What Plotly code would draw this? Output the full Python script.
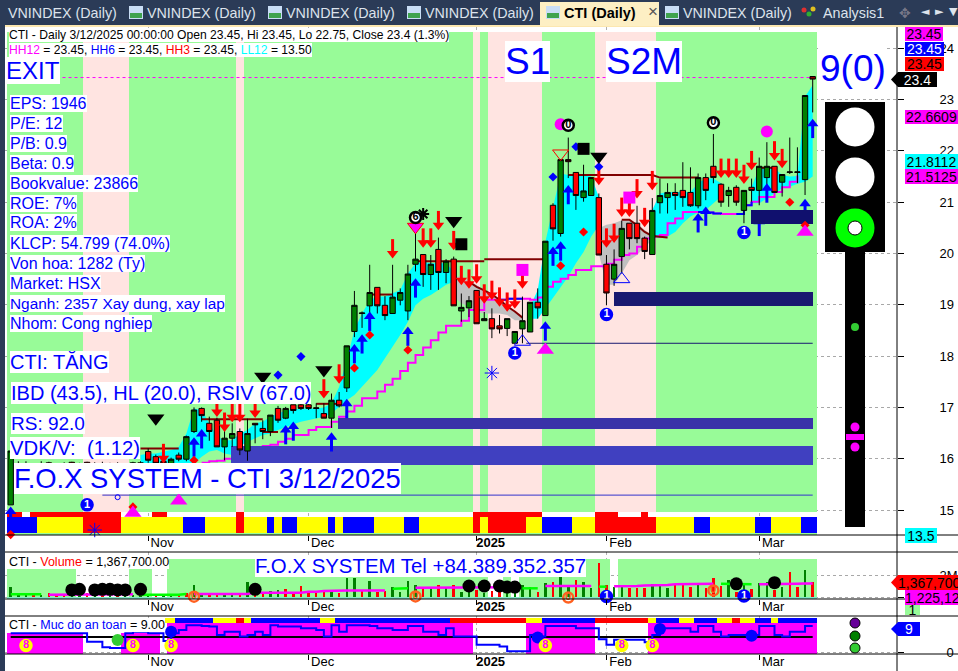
import plotly.graph_objects as go

W, H = 958, 671
# ---------- candles (bar index 0..105) ----------
opens = [15.10,15.80,15.90,15.75,15.85,15.92,15.75,15.88,15.93,15.78,15.93,15.80,15.90,15.78,15.86,15.75,15.70,15.92,16.14,16.04,
15.95,15.85,16.07,15.99,16.53,16.98,16.69,16.75,16.23,16.40,16.53,16.15,16.69,16.59,16.53,16.98,16.79,17.05,17.05,17.05,
16.98,16.88,16.79,17.14,17.38,18.48,18.83,18.98,19.34,18.99,18.83,19.09,18.88,19.79,19.98,19.59,20.08,19.63,19.89,18.88,
18.94,19.28,18.69,18.73,18.59,18.54,18.25,18.53,18.47,19.05,18.79,20.94,20.39,21.83,21.58,21.09,21.13,21.09,19.79,19.50,
19.94,20.59,20.59,20.30,19.98,20.99,21.09,21.19,21.23,21.19,20.93,21.48,21.70,21.35,21.13,21.29,20.84,21.29,21.23,21.48,
21.70,21.39,21.58,21.58,21.44,23.45]
highs = [16.15,15.95,15.95,15.90,15.95,15.94,15.90,15.93,15.94,15.92,15.94,15.93,15.94,15.92,15.93,15.90,15.94,15.95,16.20,16.08,
16.00,16.02,16.12,16.45,17.00,17.00,16.82,16.80,16.55,16.69,16.59,16.78,16.69,16.75,16.85,17.03,17.01,17.05,17.08,17.08,
17.08,17.08,17.27,17.30,18.20,19.27,18.87,19.78,19.34,19.17,19.78,19.32,19.78,20.62,19.98,19.97,20.31,19.89,19.94,19.22,
19.17,19.28,18.86,18.93,18.80,18.73,18.48,19.16,19.05,19.32,20.24,20.98,21.83,22.26,21.58,21.73,21.48,21.17,19.97,20.08,
20.64,20.59,20.93,20.33,21.08,21.46,21.37,21.37,21.78,21.68,21.56,21.56,22.33,21.37,21.30,21.33,21.23,21.46,21.87,22.17,
21.70,21.54,22.26,22.07,23.08,23.45]
lows = [15.10,15.65,15.70,15.65,15.70,15.70,15.65,15.70,15.72,15.70,15.70,15.70,15.72,15.70,15.70,15.68,15.60,15.70,15.92,15.85,
15.85,15.80,15.95,15.95,16.50,16.72,16.35,16.23,15.97,16.23,16.07,15.96,16.30,16.38,16.44,16.70,16.77,16.88,16.95,16.95,
16.79,16.79,16.60,17.00,17.30,18.37,18.55,18.83,18.83,18.70,18.83,18.99,18.70,19.65,19.35,19.29,19.29,19.42,18.98,18.67,
18.76,18.63,18.69,18.35,18.44,18.39,18.25,18.25,18.47,18.73,18.79,20.25,20.33,21.47,20.85,21.01,21.13,19.97,18.99,19.37,
19.61,20.08,20.20,19.89,19.98,20.78,20.78,20.85,20.91,20.91,20.88,21.04,21.37,20.91,20.91,20.93,20.59,21.01,20.94,21.27,
21.19,21.11,21.55,21.37,21.14,22.75]
closes = [16.15,15.90,15.75,15.85,15.80,15.75,15.88,15.80,15.78,15.85,15.80,15.90,15.78,15.86,15.75,15.88,15.92,15.80,15.97,15.91,
15.90,15.99,15.99,16.43,16.95,16.84,16.53,16.23,16.40,16.49,16.17,16.49,16.66,16.53,16.85,16.75,16.98,16.94,16.98,16.98,
16.99,16.79,17.14,17.03,18.20,18.99,18.84,19.24,18.98,18.79,19.15,19.24,19.60,19.89,19.59,19.79,19.63,19.85,18.98,18.95,
19.08,18.63,18.73,18.53,18.53,18.73,18.48,18.69,19.05,18.94,20.24,20.48,21.83,21.79,21.13,21.22,21.48,19.97,19.23,19.79,
20.49,20.29,20.29,20.04,20.84,21.13,21.19,21.13,21.09,20.93,21.48,21.23,21.48,21.00,21.23,21.00,21.23,21.23,21.70,21.70,
21.19,21.54,21.59,21.59,23.08,23.40]

# ---------- trend-ribbon segments: [first index, upper values, lower values] ----------
cyan_segments = [
 (17,[16.07,16.10,16.10,16.14,16.17,16.23,16.49,16.98,16.95,16.69,16.43,16.36,16.36,16.49,16.56,16.69,16.72,16.82,16.88,16.94,16.96,16.98,16.98,16.98,17.00,17.08,17.40,17.92,18.51,18.83,19.09,19.16,19.16,19.22,19.29,19.61,19.81,19.84,19.81,19.81,19.81,19.65],
     [15.85,15.85,15.85,15.85,15.85,15.85,15.85,15.91,16.04,16.14,16.17,16.10,16.07,16.25,16.33,16.40,16.46,16.49,16.56,16.62,16.67,16.72,16.75,16.79,16.82,16.88,17.01,17.14,17.24,17.40,17.57,17.73,17.96,18.18,18.41,18.67,18.99,19.12,19.19,19.29,19.39,19.45]),
 (68,[18.96,19.29,20.23,20.91,21.56,21.53,21.53,21.53,21.50,21.10],
     [18.73,18.73,18.93,19.13,19.35,19.55,19.81,20.03,20.33,20.55]),
 (84,[20.85,21.17,21.20,21.20,21.20,21.20,21.37,21.46,21.46,21.37],
     [20.33,20.30,20.33,20.42,20.59,20.72,20.80,20.85,20.98,21.11]),
 (97,[21.30,21.66,21.66,21.66,21.53,21.50,21.51,23.06,23.28],
     [20.98,20.98,21.07,21.17,21.27,21.30,21.36,21.40,21.50]),
]
gray_segments = [
 (58,[19.55,19.55,19.48,19.39,19.29,19.22,19.09,18.96,18.86,18.73],
     [19.16,19.03,18.96,18.86,18.83,18.83,18.83,18.80,18.70,18.70]),
 (77,[20.49,20.56,20.59,20.65,20.65,20.59,20.46,20.36],
     [20.00,19.39,19.39,19.61,19.87,19.97,20.13,20.26]),
]
# stepped support line
support_start = 25
support = [15.92,15.95,15.96,16.00,16.05,16.10,16.15,16.20,16.25,16.27,16.33,16.39,16.46,16.46,16.56,16.62,16.62,16.72,16.82,16.92,
17.03,17.18,17.18,17.31,17.44,17.56,17.71,17.87,18.02,18.17,18.31,18.46,18.59,18.59,18.69,18.90,18.90,19.10,19.10,19.10,
19.12,19.12,19.12,19.10,19.14,19.35,19.45,19.51,19.58,19.68,19.68,19.75,19.75,19.80,19.88,19.97,20.00,20.13,20.29,20.33,
20.36,20.59,20.68,20.81,20.81,20.81,20.80,20.78,20.77,20.77,20.77,20.94,21.01,21.10,21.10,21.20,21.29,21.40,21.52]
support_blue_idx = [64,65,66,67,90,91,92,93,95,96,97]
# resistance steps: (first index, values)
resist_segments = [
 (17,[16.20,16.20,16.20,16.20,16.20,16.20]),
 (25,[16.77,16.77,16.77,16.77,16.77,16.77,16.77,16.77,16.77]),
 (33,[16.52,16.52,16.52]),
 (40,[17.07,17.07,17.07,17.07]),
 (47,[19.20,19.20,19.20,19.20]),
 (53,[19.85,19.85,19.85,19.85,19.85,19.85,19.85,19.85,19.85,19.85]),
 (62,[19.89,19.89,19.89,19.89,19.89,19.89,19.89,19.89,19.89]),
 (60,[19.45,19.35,19.28,19.20,19.10,18.97,18.87,18.75]),
 (73,[21.53,21.53,21.53,21.53,21.53,21.53,21.53,21.53,21.53,21.53,21.53,21.53]),
 (84,[21.53,21.48,21.48,21.48,21.48,21.48,21.48]),
 (80,[20.66,20.66,20.55,20.42,20.34,20.33,20.31]),
 (98,[21.67,21.67,21.67]),
]
# supply/demand zones
zone_start = [42.85,28.84,79.0,96.9]
zone_end = [105.05,105.05,105.05,105.05]
zone_top = [16.79,16.25,19.25,20.85]
zone_bot = [16.58,15.88,18.98,20.58]
zone_color = ["#3A32A8","#4040C0","#191970","#10106E"]

# ---------- markers ----------
red_down_x = [50,54,55,56,58,59,60,43,41,32,29,30,28,27,20,61,62,63,64,65,66,67,77,78,79,80,81,82,83,84,93,94,95,96,97,100,101]
red_down_y = [20.07,20.28,20.28,20.62,20.23,19.55,19.48,17.63,17.34,16.96,16.88,16.88,16.69,16.98,16.08,19.58,19.19,19.26,19.13,19.03,19.09,19.48,21.50,20.28,20.37,20.88,20.88,21.24,20.68,21.40,21.64,21.64,21.64,21.52,21.79,21.98,21.83]
blue_up_x = [53,52,47,46,45,44,42,37,36,25,24,72,71,73,70,91,90,99,105,0]
blue_up_y = [19.35,18.41,18.70,18.26,18.07,17.00,16.35,16.56,16.49,16.41,16.25,20.07,19.97,21.17,18.51,20.75,20.62,21.20,22.46,14.90]
blue_up_under_x = [98,104]
blue_up_under_y = [20.55,20.90]
red_diamond_x = [47,45,52,72,75,102,104,24,16,0]
red_diamond_y = [18.41,17.77,18.12,19.76,20.42,21.00,20.55,15.97,15.06,14.52]
blue_diamond_x = [38,35,71,74,77]
blue_diamond_y = [17.99,17.63,21.49,22.08,21.69]
black_down_x = [33,41,58,77,19]
black_down_y = [17.60,17.73,20.64,21.89,16.79]
black_square_x = [59,75]
black_square_y = [20.18,22.04]
magenta_up_x = [22,16,0,70,104]
magenta_up_y = [15.18,14.94,14.40,18.12,20.42]
magenta_square_x = [67,81]
magenta_square_y = [19.68,21.09]
magenta_dot_x = [99,72]
magenta_dot_y = [22.38,22.52]
open_blue_x = [67,80]
open_blue_y = [18.28,19.50]
snow_x = [63,11]
snow_y = [17.67,14.61]
badge_zero_x = [73,92]
badge_zero_y = [22.50,22.55]
badge_one_x = [66,78,96,10]
badge_one_y = [18.06,18.81,20.41,15.10]

# ---------- bands, strips ----------
regime_runs = [("g",10),("p",6),("g",14),("p",1),("g",30),("p",1),("g",1),("p",7),("g",7),("p",8),("g",21)]
strip_runs = [("b",4),("y",6),("r",5),("y",8),("b",3),("y",4),("r",1),("y",3),("b",1),("y",1),("b",2),("y",4),("b",1),("y",1),("b",4),("y",4),("b",2),("y",7),("r",1),("y",1),("r",5),("y",2),("b",4),("y",3),("r",8),("y",5),("b",2),("y",6),("b",2),("y",4),("b",2)]
top_red_idx = [0,1,3,4,5,6,7,8,9,10,11,12,13,14,19,20,30,61,62,63,64,65,66,67,68,69,77,78,79,83]

# ---------- volume pane (millions) ----------
volumes = [0.95,0.33,0.40,0.20,0.18,0.35,0.18,0.18,0.20,0.22,0.40,0.25,0.25,0.22,0.22,0.20,0.22,0.35,0.20,0.10,
0.20,0.20,0.18,0.40,1.10,0.35,0.27,0.40,0.40,0.25,0.35,1.35,0.50,0.40,0.55,0.60,0.70,0.35,1.00,0.50,
0.40,0.48,0.55,0.40,1.70,1.70,0.64,1.45,0.48,0.58,0.94,0.48,1.45,1.10,0.94,0.79,1.10,0.79,1.10,0.48,
0.42,0.60,0.40,0.58,0.42,0.33,0.33,1.10,0.88,0.48,1.24,1.33,1.85,1.00,1.55,1.40,0.79,3.06,1.10,0.94,
1.00,0.79,0.79,0.79,1.15,1.15,0.79,1.15,1.15,0.90,1.24,0.79,1.70,1.00,1.55,0.48,1.10,0.70,1.24,1.40,
0.64,0.94,2.24,0.94,2.45,1.37]
vol_up = [1,1,1,0,1,0,0,0,1,1,0,1,0,1,0,1,1,1,1,0,
1,1,0,0,1,1,0,0,1,1,0,1,0,0,1,1,0,0,0,0,
0,0,1,0,1,1,0,1,0,0,1,1,1,1,0,1,0,1,0,1,
1,0,1,0,0,1,1,1,1,0,1,0,1,1,0,1,1,0,0,1,
1,0,0,0,1,1,1,0,0,0,1,0,0,0,1,0,1,0,1,1,
0,1,0,0,1,0]
vol_ma = [0.25,0.25,0.25,0.25,0.25,0.20,0.20,0.20,0.25,0.25,0.25,0.25,0.25,0.25,0.25,0.25,0.25,0.20,0.20,0.20,
0.20,0.20,0.20,0.27,0.27,0.27,0.27,0.27,0.27,0.27,0.27,0.27,0.39,0.39,0.39,0.39,0.39,0.39,0.39,0.48,
0.48,0.55,0.58,0.58,0.60,0.60,0.60,0.60,0.60,0.60,0.75,0.79,0.79,0.85,0.85,0.85,0.85,0.85,0.85,0.85,
0.88,0.88,0.90,0.90,0.90,0.90,0.90,0.79,0.79,0.79,1.00,1.00,1.00,1.00,1.00,1.00,1.00,0.94,0.94,0.98,
0.98,1.00,1.00,1.05,1.05,1.05,1.10,1.15,1.15,1.15,1.15,1.15,1.20,1.20,1.20,1.20,1.20,1.15,1.15,1.15,
1.15,1.18,1.20,1.20,1.22,1.225]
vol_ma_runs = [("l",5),("m",12),("l",7),("m",26),("l",3),("m",14),("l",3),("m",7),("l",2),("m",14),("l",5),("m",9)]
vol_bg = [2.55,2.55,2.55,2.55,2.55,2.55,2.55,2.55,2.55,None,None,None,None,None,None,None,2.55,2.55,2.55,None,
None]+[3.45]*42+[None,None,3.45,None,3.45]+[3.45]*11+[None]+[3.45]*27
vol_dots_x = [8,9,11,12,13,14,15,17,32,60,62,64,65,66,95,100]
vol_dots_y = [0.64,0.70,0.64,0.70,0.70,0.64,0.64,0.70,0.70,1.00,1.00,1.00,0.90,0.90,1.20,1.30]

# ---------- safety pane ----------
safety = [6.5,6.5,6.5,6.5,6.5,6.5,6.5,6.5,6.5,6.5,3.6,3.6,1.7,1.5,1.5,6.5,7.0,7.0,6.5,6.5,
3.9,6.5,7.6,9.3,9.3,9.0,8.8,5.9,7.0,7.0,5.4,5.9,7.0,5.9,9.3,8.8,8.8,8.8,8.2,8.2,
7.6,5.4,9.3,7.0,9.3,9.3,9.3,9.0,8.2,8.2,7.6,7.6,9.0,9.0,7.0,7.0,5.9,8.2,5.4,5.4,
5.4,2.6,2.6,2.6,2.0,0.4,0.4,0.4,5.9,5.4,9.0,9.0,9.0,9.0,8.2,8.2,8.2,4.5,2.6,4.3,
4.3,4.3,4.3,3.4,5.9,8.2,8.2,8.2,8.2,7.0,9.0,9.0,7.0,5.4,5.9,5.9,5.9,5.9,9.0,9.0,
5.9,5.4,7.0,7.0,9.0,9.0]
safety_fill = [6.5]*10+[None]*5+[6.5]*5+[None]+[10.0]*40+[None]*7+[10.0]*9+[None]*7+[10.0]*22
safety_base_line = 5.25
safety_strip_runs = [(None,20),("y",2),("b",5),("y",3),("r",1),("y",1),("b",9),("y",2),("b",15),("r",10),("y",2),("b",7),("r",7),("y",1),("b",3),("y",2),("b",3),("y",2),("r",1),("y",2),("b",2),("y",1),("b",5)]
blue_dot_x = [21,69,85,97]
blue_dot_y = [7.0,5.1,8.0,5.7]
yellow8_x = [2,16,21,70,80,84]
yellow8_y = [2.3,2.3,2.3,2.3,2.3,2.3]

# ---------- axis labels ----------
month_pos = [18,39,61,78,98]
month_txt = ["Nov","Dec","<b>2025</b>","Feb","Mar"]
price_ticks = [15,16,17,18,19,20,21,22,23,24]

COL = {"g":"#98FB98","p":"#FFE4E1","b":"#0000FF","y":"#FFFF00","r":"#FF0000","m":"#FF00FF","l":"#00FF00",None:"rgba(0,0,0,0)"}
def expand(runs):
    out=[]
    for c,n in runs: out += [c]*n
    return out

N = len(closes)
idx = list(range(N))
XA = ((5-10.7)/7.638, (897-10.7)/7.638)
def ppx(y): return 15+(510-y)/51.3
R1 = [ppx(535),ppx(27)]
R2 = [(597-599)/11,(597-552)/11]
R3 = [(652.3-654)/2.92,(652.3-616)/2.92]
def dom(a,b): return [1-b/H,1-a/H]

fig = go.Figure()
base = dict(hoverinfo="skip",showlegend=False)
def bar(x,h,b,color,ya="y",xa="x",width=1):
    fig.add_trace(go.Bar(x=x,y=h,base=b,width=width,marker=dict(color=color,line=dict(width=0)),xaxis=xa,yaxis=ya,**base))

# ---- main pane, base layer
bg_top, bg_bot = ppx(32), ppx(512)
bar(idx,[bg_top-bg_bot]*N,bg_bot,[COL[c] for c in expand(regime_runs)])
bar(idx,[ppx(533)-ppx(535)]*N,ppx(535),"#98FB98")
bar(idx,[ppx(517)-ppx(533)]*N,ppx(533),[COL[c] for c in expand(strip_runs)])
bar(top_red_idx,[ppx(512)-ppx(517)]*len(top_red_idx),ppx(517),"#FF0000")
def ribbon(segs,color):
    for s,u,l in segs:
        xs=list(range(s,s+len(u)))
        fig.add_trace(go.Scatter(x=xs,y=l,mode="lines",line=dict(width=0,color=color),xaxis="x",yaxis="y",**base))
        fig.add_trace(go.Scatter(x=xs,y=u,mode="lines",line=dict(width=0,color=color),fill="tonexty",fillcolor=color,xaxis="x",yaxis="y",**base))
ribbon(cyan_segments,"#00FFFF")
ribbon(gray_segments,"#C0C0C0")
sx=list(range(support_start,support_start+len(support)))
fig.add_trace(go.Scatter(x=sx,y=support,mode="lines",line=dict(color="#FF00FF",width=2,shape="hv"),xaxis="x",yaxis="y",**base))
fig.add_trace(go.Scatter(x=sx,y=[v if (i in support_blue_idx) else None for i,v in zip(sx,support)],mode="lines",line=dict(color="#0000FF",width=2,shape="hv"),xaxis="x",yaxis="y",**base))
def arrows(xs,ys,color,up,ya):
    d = 1 if up else -1
    fig.add_trace(go.Scatter(x=xs,y=[v-d*0.06 for v in ys],mode="markers",marker=dict(symbol="line-ns",size=11,line=dict(color=color,width=3)),xaxis="x",yaxis=ya,cliponaxis=False,**base))
    fig.add_trace(go.Scatter(x=xs,y=[v+d*0.07 for v in ys],mode="markers",marker=dict(symbol="triangle-up" if up else "triangle-down",size=10,color=color,line=dict(width=0)),xaxis="x",yaxis=ya,cliponaxis=False,**base))
arrows(blue_up_under_x,blue_up_under_y,"#0000FF",True,"y")

# ---- zones
for a,b,t,l,c in zip(zone_start,zone_end,zone_top,zone_bot,zone_color):
    bar([(a+b)/2],[t-l],l,c,ya="y4",width=b-a)
fig.add_trace(go.Scatter(x=[67.5,105],y=[18.25,18.25],mode="lines",line=dict(color="#191970",width=1),xaxis="x",yaxis="y4",**base))
fig.add_trace(go.Scatter(x=[12,105],y=[15.29,15.29],mode="lines",line=dict(color="#3333CC",width=1),xaxis="x",yaxis="y4",**base))
fig.add_trace(go.Scatter(x=[6,105],y=[23.43,23.43],mode="lines",line=dict(color="#FF00FF",width=1,dash="3px,3px"),xaxis="x",yaxis="y4",**base))
for s,v in resist_segments:
    fig.add_trace(go.Scatter(x=list(range(s,s+len(v))),y=v,mode="lines",line=dict(color="#800000",width=2),xaxis="x",yaxis="y4",**base))

# ---- candles + markers
fig.add_trace(go.Candlestick(x=idx,open=opens,high=highs,low=lows,close=closes,whiskerwidth=0,
    increasing=dict(fillcolor="#008000",line=dict(color="#000000",width=1)),
    decreasing=dict(fillcolor="#FF0000",line=dict(color="#000000",width=1)),
    xaxis="x",yaxis="y5",hoverinfo="skip",showlegend=False))
arrows(red_down_x,red_down_y,"#FF0000",False,"y5")
arrows(blue_up_x,blue_up_y,"#0000FF",True,"y5")
def mk(xs,ys,sym,size,color,ya="y5",xa="x",lc=None,lw=0,**kw):
    fig.add_trace(go.Scatter(x=xs,y=ys,mode="markers",marker=dict(symbol=sym,size=size,color=color,line=dict(color=lc or color,width=lw)),xaxis=xa,yaxis=ya,cliponaxis=False,**base,**kw))
def badge(xs,ys,txt,fill,lc,tc,ya="y5",xa="x",size=11):
    fig.add_trace(go.Scatter(x=xs,y=ys,mode="markers+text",text=[f"<b>{txt}</b>"]*len(xs),textposition="middle center",
        textfont=dict(family="Liberation Sans",size=11,color=tc),
        marker=dict(symbol="circle",size=size,color=fill,line=dict(color=lc,width=2.5)),xaxis=xa,yaxis=ya,cliponaxis=False,**base))
mk(red_diamond_x,red_diamond_y,"diamond",7,"#FF0000")
mk(blue_diamond_x,blue_diamond_y,"diamond",7,"#0000FF")
mk(black_down_x,black_down_y,"triangle-down",15,"#000000")
mk(black_square_x,black_square_y,"square",12,"#000000")
mk(magenta_up_x,magenta_up_y,"triangle-up",15,"#FF00FF")
mk(magenta_square_x,magenta_square_y,"square",12,"#FF00FF")
mk(magenta_dot_x,magenta_dot_y,"circle",12,"#FF00FF")
mk(open_blue_x,open_blue_y,"triangle-up-open",14,"#0000FF",lw=1)
mk(snow_x,snow_y,"asterisk-open",12,"#0000FF",lw=1)
mk([54],[20.77],"asterisk-open",10,"#000000",lw=2)
mk([53],[20.52],"triangle-down",14,"#FF00FF",lc="#FF0000",lw=1)
mk([72],[21.95],"triangle-down-open",14,"#FF0000",lw=1)
mk([14],[15.25],"circle-open",5,"#0000FF",lw=1)
badge([53],[20.70],"6","#FFFFFF","#000000","#000000")
badge(badge_zero_x,badge_zero_y,"0","#FFFFFF","#000000","#000000")
badge(badge_one_x,badge_one_y,"1","#0000FF","#0000FF","#FFFFFF")

# ---- volume pane
bar(idx,[b if b is None else b+0.09 for b in vol_bg],-0.09,"#98FB98",ya="y2",xa="x2")
bar(idx,[0.07]*N,-0.16,"#7FE8C8",ya="y2",xa="x2")
fig.add_trace(go.Bar(x=idx,y=volumes,width=0.32,marker=dict(color=["#008000" if u else "#FF0000" for u in vol_up],line=dict(width=0)),xaxis="x2",yaxis="y2",**base))
ma_c = expand(vol_ma_runs)
for key in ("m","l"):
    fig.add_trace(go.Scatter(x=idx,y=[v if c==key else None for v,c in zip(vol_ma,ma_c)],mode="lines",line=dict(color=COL[key],width=2.5),xaxis="x2",yaxis="y2",**base))
mk(vol_dots_x,vol_dots_y,"circle",13,"#000000",ya="y2",xa="x2")
badge([24,53,73,92],[0.03,0.05,-0.05,0.60],"0","rgba(255,255,255,0)","#FF6020","#FF6020",ya="y2",xa="x2",size=10)
badge([1],[-0.88],"0","#FFFFFF","#FF6020","#FF6020",ya="y2",xa="x2")
badge([10,28,66],[-0.82,-0.78,-0.88],"1","#0000FF","#0000FF","#FFFFFF",ya="y2",xa="x2")
badge([78,96],[0.05,0.10],"1","#0000FF","#0000FF","#FFFFFF",ya="y2",xa="x2")

# ---- safety pane
bar(idx,[None if v is None else v-R3[0] for v in safety_fill],R3[0],"#FF00FF",ya="y3",xa="x3")
bar(idx,[(652.3-618)/2.92-(652.3-623)/2.92]*N,(652.3-623)/2.92,[COL[c] for c in expand(safety_strip_runs)],ya="y3",xa="x3")
fig.add_trace(go.Scatter(x=idx,y=[safety_base_line]*N,mode="lines",line=dict(color="#000000",width=2),xaxis="x3",yaxis="y3",**base))
fig.add_trace(go.Scatter(x=idx,y=safety,mode="lines",line=dict(color="#0000FF",width=2,shape="hv"),xaxis="x3",yaxis="y3",**base))
mk(blue_dot_x,blue_dot_y,"circle",12,"#0000FF",ya="y3",xa="x3")
mk([14],[4.2],"circle",12,"#33CC33",ya="y3",xa="x3")
badge(yellow8_x,yellow8_y,"8","#FFFF00","#FFFF00","#FF00FF",ya="y3",xa="x3")
low_y=-3.3
badge([1,24,53,73,92],[low_y]*5,"0","#FFFFFF","#FF6020","#FF6020",ya="y3",xa="x3")
badge([2,16,21],[low_y]*3,"9","#FFFFFF","#000000","#000000",ya="y3",xa="x3")
badge([10,28,66,78,96],[low_y]*5,"1","#0000FF","#0000FF","#FFFFFF",ya="y3",xa="x3")

# ---------- layout ----------
shapes=[]; ann=[]
def rect(x0,y0,x1,y1,color,line=None,lw=0):
    shapes.append(dict(type="rect",xref="paper",yref="paper",x0=x0/W,x1=x1/W,y0=1-y0/H,y1=1-y1/H,fillcolor=color,line=dict(color=line or color,width=lw),layer="above"))
def circ(cx,cy,r,color,line=None,lw=0):
    shapes.append(dict(type="circle",xref="paper",yref="paper",x0=(cx-r)/W,x1=(cx+r)/W,y0=1-(cy-r)/H,y1=1-(cy+r)/H,fillcolor=color,line=dict(color=line or color,width=lw),layer="above"))
def hline(y,x0=5,x1=W,w=1):
    shapes.append(dict(type="line",xref="paper",yref="paper",x0=x0/W,x1=x1/W,y0=1-y/H,y1=1-y/H,line=dict(color="#000",width=w),layer="above"))
def label(t,x,y,size,color="#0000FF",bg="rgba(255,255,255,1)",pad=0,family="Liberation Sans",anchor="left"):
    ann.append(dict(text=t,xref="paper",yref="paper",x=x/W,y=1-y/H,xanchor=anchor,yanchor="middle",showarrow=False,
        font=dict(family=family,size=size,color=color),bgcolor=bg,borderpad=pad,borderwidth=0,align="left"))
def tag(t,x0,x1,y0,y1,bg,fg="#000000",size=14,align="center",arrow=False):
    ann.append(dict(text=t,xref="paper",yref="paper",x=x0/W,y=1-y0/H,xanchor="left",yanchor="top",showarrow=False,width=x1-x0,height=y1-y0,
        font=dict(family="Liberation Sans",size=size,color=fg),bgcolor=bg,borderpad=0,borderwidth=0,align=align,valign="middle"))
    if arrow:
        ym=(y0+y1)/2
        shapes.append(dict(type="path",xref="paper",yref="paper",path=f"M {(x0-7)/W} {1-ym/H} L {x0/W} {1-y0/H} L {x0/W} {1-y1/H} Z",fillcolor=bg,line=dict(width=0),layer="above"))

# tab bar
NAVY="#2B3B57"
rect(0,0,W,25,NAVY); rect(0,25,W,27,"#FCE7B0"); rect(0,25,5,H,NAVY)
rect(540,2,659,26,"#FDEFC4")
for x in (129,268,407,546,665):
    rect(x,6,x+14,19,"#C9DDF5"); rect(x+1,13,x+13,18,"#3FA34D")
for t,x in (("VNINDEX (Daily)",8),("VNINDEX (Daily)",147),("VNINDEX (Daily)",286),("VNINDEX (Daily)",425),("VNINDEX (Daily)",683),("Analysis1",823)):
    label(t,x,13,14.3,color="#DDE3EC",bg="rgba(0,0,0,0)")
label("<b>CTI (Daily)</b>",564,13,14.5,color="#000000",bg="rgba(0,0,0,0)")
label("×",648,12,17,color="#555555",bg="rgba(0,0,0,0)")
for t,x in (("◄",921),("►",935),("▼",949)):
    label(t,x,12,11,color="#DDE3EC",bg="rgba(0,0,0,0)",family="DejaVu Sans")
circ(804,10,2.5,"#E03030"); circ(809,14,2.5,"#30B030"); circ(813,9,2.5,"#E0C020")
label("✥",899,13,14,color="#778",bg="rgba(0,0,0,0)",family="DejaVu Sans")

# pane frames
for y in (535,552,599,616,654): hline(y)
shapes.append(dict(type="line",xref="paper",yref="paper",x0=897/W,x1=897/W,y0=0,y1=1-27/H,line=dict(color="#000",width=1),layer="above"))

# traffic light
rect(825,102,885,252,"#000000"); rect(845,252,865,527,"#000000")
circ(855,127,19.5,"#FFFFFF"); circ(855,177,19.5,"#FFFFFF")
circ(855,228,19.5,"#00FF00"); circ(855,228,7,"#FFFFFF","#000000",1)
circ(855,327,4,"#33CC33"); circ(855,427,4.5,"#FF00FF"); circ(855,447,4.5,"#FF00FF"); rect(846,434,864,440,"#FF00FF")
circ(855,623,5,"#660099","#000",1); circ(855,636,5,"#008000","#000",1); circ(855,648,5,"#33CC33","#000",1)

# info texts
label("CTI - Daily 3/12/2025 00:00:00 Open 23.45, Hi 23.45, Lo 22.75, Close 23.4 (1.3%)",9,35,12.1,color="#000000")
label('<span style="color:#FF00FF">HH12</span> = 23.45, <span style="color:#0000FF">HH6</span> = 23.45, <span style="color:#FF0000">HH3</span> = 23.45, <span style="color:#00FFFF">LL12</span> = 13.50',9,50,12.1,color="#000000")
label("EXIT",6,70,24)
rows=["EPS: 1946","P/E: 12","P/B: 0.9","Beta: 0.9","Bookvalue: 23866","ROE: 7%","ROA: 2%","KLCP: 54.799 (74.0%)","Von hoa: 1282 (Ty)","Market: HSX","Nganh: 2357 Xay dung, xay lap","Nhom: Cong nghiep"]
for k,t in enumerate(rows):
    label(t,10,103+k*20,15.4 if t.startswith("Nganh") else 16)
label("CTI: TĂNG",10,362,20)
label("IBD (43.5), HL (20.0), RSIV (67.0)",11,393,20)
label("RS: 92.0",11,423,19)
label("VDK/V:  (1.12)",10,448,20.3)
label("F.O.X SYSTEM - CTI 3/12/2025",14,479,27.4)
label("S1",505,61,37); label("S2M",606,61,37)
label("9(0)",820,68,37)
label("F.O.X SYSTEM Tel +84.389.352.357",255,566,20.4)
label('CTI - <span style="color:#FF0000">Volume</span> = 1,367,700.00',9,562,12.5,color="#000000")
label('CTI - <span style="color:#0000FF">Muc do an toan</span> = 9.00',9,625,12.5,color="#000000")

# right side tags
tag("23.45",905,943,27,41,"#FF00FF"); tag("23.45",905,944,42,56,"#0000FF","#FFFFFF"); tag("23.45",905,944,57,71,"#FF0000")
tag("23.4",898,937,72,87,"#000000","#FFFFFF",arrow=True)
tag("22.6609",905,958,110,124,"#FF00FF"); tag("21.8112",905,958,154,169,"#00FFFF"); tag("21.5125",905,958,169,184,"#FF00FF")
tag("13.5",905,937,528,543,"#00FFFF")
tag("1,367,700",898,958,575,590,"#FF0000",align="left",arrow=True)
tag("1,225,125",905,958,590,605,"#FF00FF",align="left")
tag("1",905,920,605,615,"#98FB98")
tag("9",898,920,622,636,"#0000FF","#FFFFFF",arrow=True)

ax_x = dict(range=list(XA),domain=[5/W,897/W],showgrid=True,griddash="dot",gridcolor="#B0B0B0",gridwidth=1,zeroline=False,automargin=False,
    tickmode="array",tickvals=month_pos,ticktext=month_txt,ticks="outside",ticklen=5,tickcolor="#000",tickfont=dict(family="Liberation Sans",size=13,color="#000"),
    ticklabelshift=14,ticklabelstandoff=-10,showline=False)
ax_y = dict(side="right",showgrid=True,griddash="dot",gridcolor="#A8A8A8",gridwidth=1,zeroline=False,showline=False,ticks="outside",ticklen=6,tickcolor="#000",automargin=False,
    tickfont=dict(family="Liberation Sans",size=13,color="#000"),ticklabelstandoff=33)
hidden = dict(range=R1,domain=dom(27,535),overlaying="y",visible=False,anchor="x",side="right",automargin=False)
fig.update_layout(
    width=W,height=H,margin=dict(l=0,r=0,t=0,b=0),autosize=False,paper_bgcolor="#FFFFFF",plot_bgcolor="#FFFFFF",
    barmode="overlay",bargap=0,boxgap=0.3,boxgroupgap=0,showlegend=False,hovermode=False,dragmode=False,
    xaxis=dict(ax_x,anchor="y",rangeslider=dict(visible=False)),
    xaxis2=dict(ax_x,anchor="y2",matches="x"),
    xaxis3=dict(ax_x,anchor="y3",matches="x"),
    yaxis=dict(ax_y,range=R1,domain=dom(27,535),anchor="x",tickmode="array",tickvals=price_ticks,ticktext=[str(v) for v in price_ticks]),
    yaxis2=dict(ax_y,range=R2,domain=dom(552,599),anchor="x2",tickmode="array",tickvals=[0,2],ticktext=["","2M"]),
    yaxis3=dict(ax_y,range=R3,domain=dom(616,654),anchor="x3",tickmode="array",tickvals=[0],ticktext=["0"],ticklabelstandoff=40),
    yaxis4=hidden, yaxis5=hidden,
    shapes=shapes,annotations=ann)
fig.write_html("out.html",config=dict(displayModeBar=False),default_width="958px",default_height="671px",
    post_script="var s=document.createElement('style');s.textContent='html,body{margin:0;padding:0;width:958px;height:671px;overflow:hidden}';document.head.appendChild(s);")
